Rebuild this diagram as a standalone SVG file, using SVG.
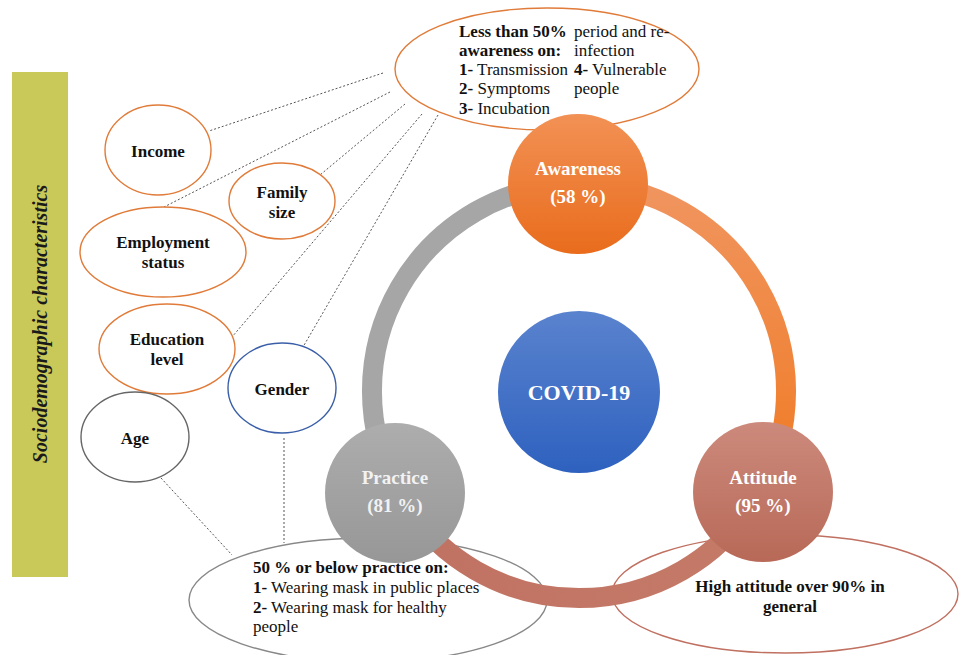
<svg xmlns="http://www.w3.org/2000/svg" width="959" height="655" viewBox="0 0 959 655">
  <defs>
    <linearGradient id="gAware" x1="0" y1="0" x2="0" y2="1">
      <stop offset="0" stop-color="#F29155"/>
      <stop offset="1" stop-color="#E96C1C"/>
    </linearGradient>
    <linearGradient id="gAtt" x1="0" y1="0" x2="0" y2="1">
      <stop offset="0" stop-color="#CC8A7C"/>
      <stop offset="1" stop-color="#B86957"/>
    </linearGradient>
    <linearGradient id="gPrac" x1="0" y1="0" x2="0" y2="1">
      <stop offset="0" stop-color="#ADADAD"/>
      <stop offset="1" stop-color="#979797"/>
    </linearGradient>
    <linearGradient id="gCovid" x1="0" y1="0" x2="0" y2="1">
      <stop offset="0" stop-color="#5A83CE"/>
      <stop offset="1" stop-color="#2E61BF"/>
    </linearGradient>
    <linearGradient id="gOrangeArc" x1="0" y1="0" x2="0" y2="1">
      <stop offset="0" stop-color="#F09560"/>
      <stop offset="1" stop-color="#F07A22"/>
    </linearGradient>
    <linearGradient id="gSalmonArc" x1="0" y1="0" x2="1" y2="0">
      <stop offset="0" stop-color="#C07262"/>
      <stop offset="1" stop-color="#C57A68"/>
    </linearGradient>
  </defs>
  <style>
    .lbl { font-family: "Liberation Serif", "Times New Roman", serif; font-size: 17px; fill: #111; }
    .b { font-weight: bold; }
    .side { font-family: "Liberation Serif", "Times New Roman", serif; font-size: 20px; font-style: italic; font-weight: bold; fill: #1A1A1A; text-anchor: middle; }
    .node { font-family: "Liberation Serif", "Times New Roman", serif; font-weight: bold; font-size: 19px; fill: #FFFFFF; text-anchor: middle; }
    .pr { fill: #F2F2F2; }
    .ov { fill: #FFFFFF; stroke-width: 1.4; }
    .dot { stroke: #555; stroke-width: 1; stroke-dasharray: 2 2; fill: none; }
    .arc { fill: none; stroke-width: 20; }
  </style>

  <rect width="959" height="655" fill="#FFFFFF"/>

  <!-- side band -->
  <g id="side-band">
    <rect x="12" y="72" width="56" height="505" fill="#C9C95A"/>
    <text class="side" transform="translate(47 324) rotate(-90)">Sociodemographic characteristics</text>
  </g>

  <!-- dotted connectors -->
  <g id="connectors">
    <line class="dot" x1="383" y1="73" x2="209" y2="131"/>
    <line class="dot" x1="390" y1="92" x2="164" y2="207"/>
    <line class="dot" x1="405" y1="104" x2="320" y2="175"/>
    <line class="dot" x1="422" y1="114" x2="232" y2="337"/>
    <line class="dot" x1="438" y1="115" x2="303" y2="347"/>
    <line class="dot" x1="284" y1="438" x2="284" y2="543"/>
    <line class="dot" x1="161" y1="478" x2="232" y2="555"/>
  </g>

  <!-- awareness detail -->
  <g id="awareness-note">
    <ellipse class="ov" cx="547" cy="69" rx="152" ry="61" stroke="#E07B39"/>
    <text class="lbl b" x="459" y="37">Less than 50%</text>
    <text class="lbl b" x="459" y="56">awareness on:</text>
    <text class="lbl" x="459" y="75"><tspan class="b">1-</tspan> Transmission</text>
    <text class="lbl" x="459" y="94"><tspan class="b">2-</tspan> Symptoms</text>
    <text class="lbl" x="459" y="114"><tspan class="b">3-</tspan> Incubation</text>
    <text class="lbl" x="574" y="37">period and re-</text>
    <text class="lbl" x="574" y="56">infection</text>
    <text class="lbl" x="574" y="75"><tspan class="b">4-</tspan> Vulnerable</text>
    <text class="lbl" x="574" y="94">people</text>
  </g>

  <!-- sociodemographic factors -->
  <g id="income">
    <ellipse class="ov" cx="158" cy="150" rx="53" ry="45" stroke="#E07B39"/>
    <text class="lbl b" x="158" y="157" text-anchor="middle">Income</text>
  </g>
  <g id="family-size">
    <ellipse class="ov" cx="282" cy="201" rx="53" ry="38" stroke="#E07B39"/>
    <text class="lbl b" x="282" y="198" text-anchor="middle">Family</text>
    <text class="lbl b" x="282" y="218" text-anchor="middle">size</text>
  </g>
  <g id="employment">
    <ellipse class="ov" cx="163" cy="252" rx="83" ry="45" stroke="#E07B39"/>
    <text class="lbl b" x="163" y="248" text-anchor="middle">Employment</text>
    <text class="lbl b" x="163" y="268" text-anchor="middle">status</text>
  </g>
  <g id="education">
    <ellipse class="ov" cx="167" cy="349" rx="68" ry="45" stroke="#E07B39"/>
    <text class="lbl b" x="167" y="345" text-anchor="middle">Education</text>
    <text class="lbl b" x="167" y="365" text-anchor="middle">level</text>
  </g>
  <g id="gender">
    <ellipse class="ov" cx="282" cy="388" rx="54" ry="45" stroke="#3A5FA8"/>
    <text class="lbl b" x="282" y="395" text-anchor="middle">Gender</text>
  </g>
  <g id="age">
    <ellipse class="ov" cx="135" cy="437" rx="54" ry="45" stroke="#666666"/>
    <text class="lbl b" x="135" y="444" text-anchor="middle">Age</text>
  </g>

  <!-- practice / attitude notes -->
  <g id="practice-note">
    <ellipse class="ov" cx="368" cy="600" rx="179" ry="62" stroke="#888888"/>
    <text class="lbl b" x="253" y="573">50 % or below practice on:</text>
    <text class="lbl" x="253" y="593"><tspan class="b">1-</tspan> Wearing mask in public places</text>
    <text class="lbl" x="253" y="613"><tspan class="b">2-</tspan>  Wearing mask for healthy</text>
    <text class="lbl" x="253" y="632">people</text>
  </g>
  <g id="attitude-note">
    <ellipse class="ov" cx="785" cy="594" rx="173" ry="59" stroke="#C07060"/>
    <text class="lbl b" x="790" y="592" text-anchor="middle">High attitude over 90% in</text>
    <text class="lbl b" x="790" y="612" text-anchor="middle">general</text>
  </g>

  <!-- cycle ring -->
  <g id="ring">
    <path class="arc" stroke="#A6A6A6" d="M 399.7 494.5 A 207 207 0 0 1 579 184"/>
    <path class="arc" stroke="url(#gOrangeArc)" d="M 579 184 A 207 207 0 0 1 758.3 494.5"/>
    <path class="arc" stroke="url(#gSalmonArc)" d="M 758.3 494.5 A 207 207 0 0 1 399.7 494.5"/>
  </g>

  <g id="covid">
    <circle cx="579" cy="392" r="81" fill="url(#gCovid)"/>
    <text class="node" x="579" y="400" style="font-size:22px">COVID-19</text>
  </g>
  <g id="awareness">
    <circle cx="578" cy="184" r="70" fill="url(#gAware)"/>
    <text class="node" x="578" y="175">Awareness</text>
    <text class="node" x="578" y="203">(58 %)</text>
  </g>
  <g id="practice">
    <circle cx="395" cy="493" r="70" fill="url(#gPrac)"/>
    <text class="node pr" x="395" y="484">Practice</text>
    <text class="node pr" x="395" y="512">(81 %)</text>
  </g>
  <g id="attitude">
    <circle cx="763" cy="492" r="70" fill="url(#gAtt)"/>
    <text class="node" x="763" y="484">Attitude</text>
    <text class="node" x="763" y="512">(95 %)</text>
  </g>
</svg>
